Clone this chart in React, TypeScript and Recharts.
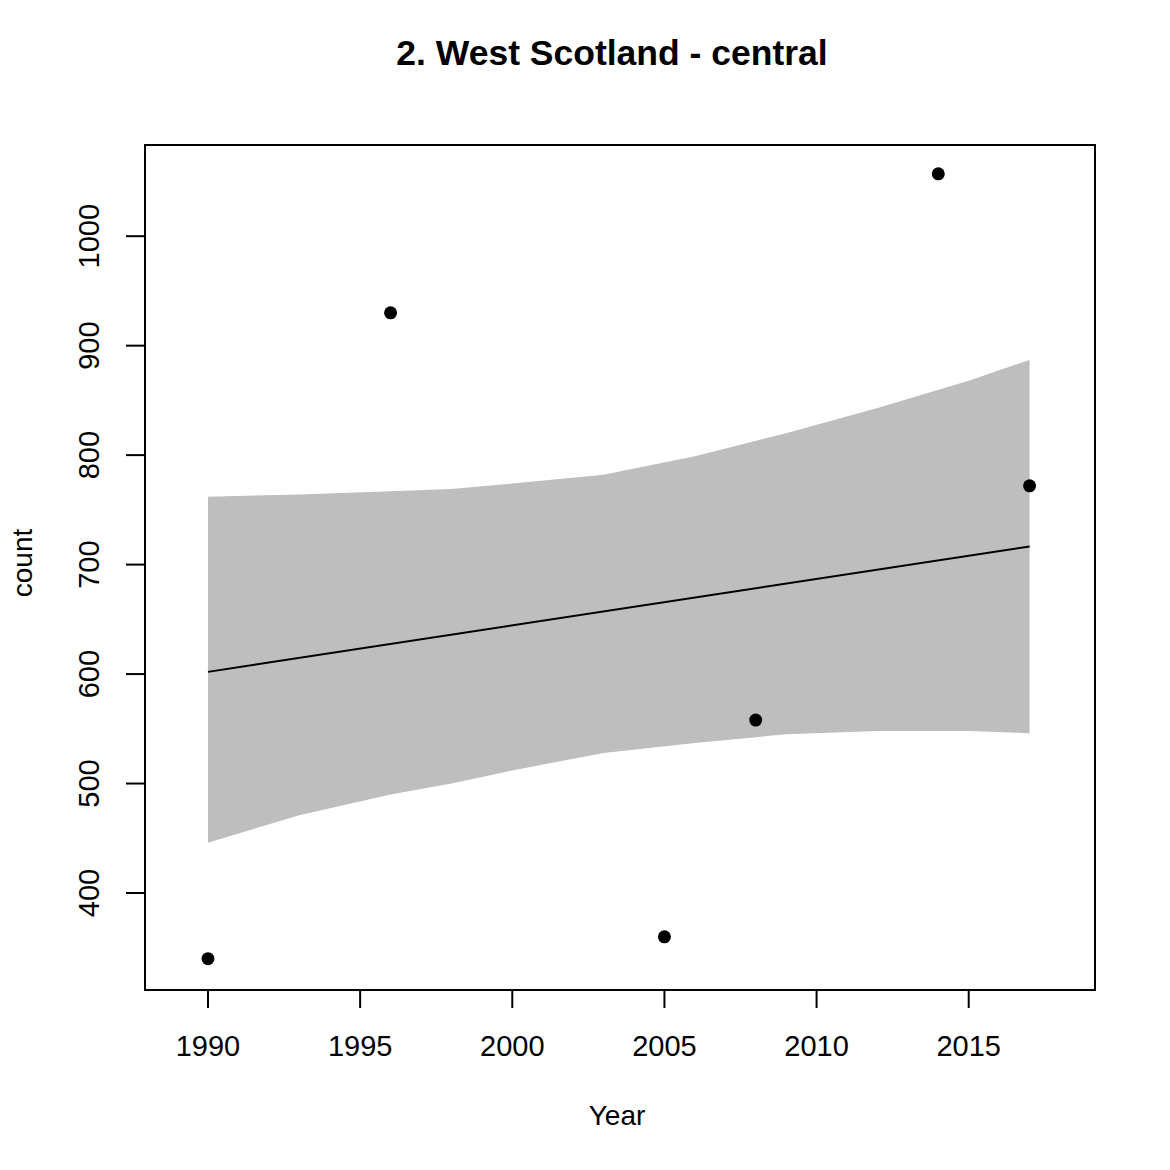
import React from "react";
import {
  ComposedChart,
  XAxis,
  YAxis,
  Area,
  Line,
  Scatter,
  ReferenceArea,
} from "recharts";

// observed counts
const pointYears = [1990, 1996, 2005, 2008, 2014, 2017];
const pointCounts = [340, 930, 360, 558, 1057, 772];

// fitted trend
const fitYears = [1990, 2017];
const fitCounts = [602, 716.5];

// confidence band
const bandYears = [1990, 1993, 1996, 1998, 2000, 2003, 2006, 2009, 2012, 2015, 2017];
const bandLower = [446, 471, 490, 500, 512, 528, 537, 545, 548, 548, 546];
const bandUpper = [762, 764, 767, 769, 774, 782, 799, 820, 843, 868, 887];

const xTicks = [1990, 1995, 2000, 2005, 2010, 2015];
const yTicks = [400, 500, 600, 700, 800, 900, 1000];

const X_DOMAIN: [number, number] = [1987.93, 2019.15];
const Y_DOMAIN: [number, number] = [311.4, 1083.3];

const FONT = "'Liberation Sans', Arial, sans-serif";

const points = pointYears.map((x, i) => ({ x, y: pointCounts[i] }));
const fit = fitYears.map((x, i) => ({ x, y: fitCounts[i] }));
const band = bandYears.map((x, i) => ({ x, range: [bandLower[i], bandUpper[i]] }));

const YTick = (props: any) => {
  const { x, y, payload } = props;
  const bx = x - 25;
  return (
    <text
      x={bx}
      y={y}
      transform={`rotate(-90, ${bx}, ${y})`}
      textAnchor="middle"
      fontSize={29}
      fontFamily={FONT}
      fill="#000"
    >
      {payload.value}
    </text>
  );
};

const Dot = (props: any) => <circle cx={props.cx} cy={props.cy} r={6.5} fill="#000" />;

export default function App() {
  return (
    <div style={{ position: "absolute", left: 0, top: 0, width: 1170, height: 1170, background: "#fff" }}>
      <ComposedChart
        width={1170}
        height={1170}
        margin={{ top: 145, right: 75, bottom: 0, left: 0 }}
      >
        <XAxis
          type="number"
          dataKey="x"
          domain={X_DOMAIN}
          allowDataOverflow
          ticks={xTicks}
          height={180}
          axisLine={false}
          tickSize={18}
          tickMargin={27}
          tickLine={{ stroke: "#000", strokeWidth: 2 }}
          tick={{ fill: "#000", fontSize: 29, fontFamily: FONT }}
        />
        <YAxis
          type="number"
          domain={Y_DOMAIN}
          allowDataOverflow
          ticks={yTicks}
          width={145}
          axisLine={false}
          tickSize={19}
          tickMargin={2}
          tickLine={{ stroke: "#000", strokeWidth: 2 }}
          tick={<YTick />}
        />
        <Area
          data={band}
          dataKey="range"
          type="linear"
          stroke="none"
          fill="#BEBEBE"
          fillOpacity={1}
          isAnimationActive={false}
        />
        <Line
          data={fit}
          dataKey="y"
          type="linear"
          stroke="#000"
          strokeWidth={2}
          dot={false}
          isAnimationActive={false}
        />
        <Scatter data={points} dataKey="y" shape={<Dot />} isAnimationActive={false} />
        <ReferenceArea
          x1={X_DOMAIN[0]}
          x2={X_DOMAIN[1]}
          y1={Y_DOMAIN[0]}
          y2={Y_DOMAIN[1]}
          fill="none"
          fillOpacity={0}
          stroke="#000"
          strokeWidth={2}
          ifOverflow="visible"
        />
      </ComposedChart>
      <svg
        width={1170}
        height={1170}
        style={{ position: "absolute", left: 0, top: 0, pointerEvents: "none" }}
      >
        <text x={612} y={65} textAnchor="middle" fontSize={35.5} fontWeight="bold" fontFamily={FONT} fill="#000">
          2. West Scotland - central
        </text>
        <text x={617} y={1125} textAnchor="middle" fontSize={28} fontFamily={FONT} fill="#000">
          Year
        </text>
        <text
          x={32}
          y={563}
          transform="rotate(-90, 32, 563)"
          textAnchor="middle"
          fontSize={28}
          fontFamily={FONT}
          fill="#000"
        >
          count
        </text>
      </svg>
    </div>
  );
}
